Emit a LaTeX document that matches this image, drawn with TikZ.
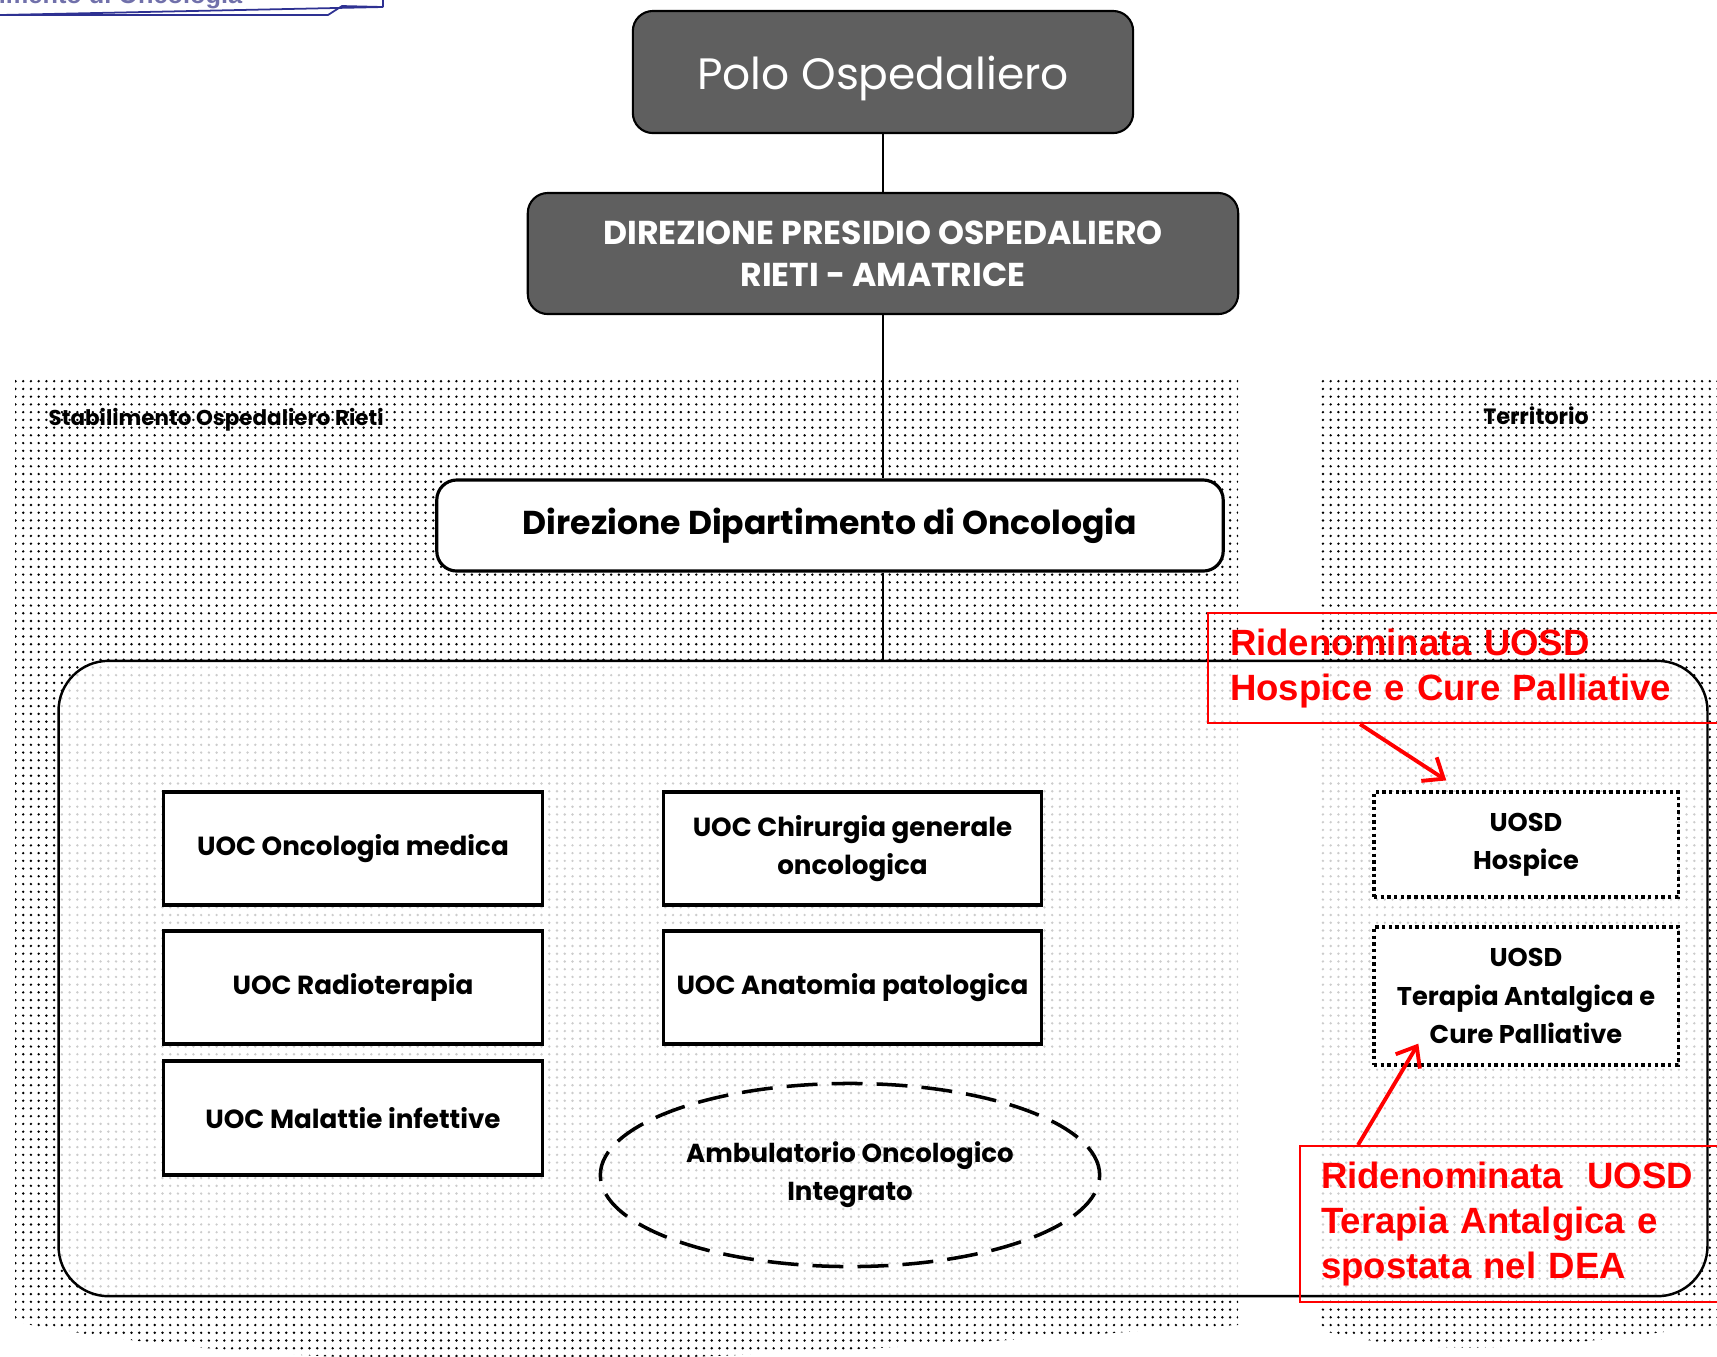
\documentclass[tikz,border=0pt]{standalone}
\usepackage{fontspec}
\setmainfont{Poppins}
\newfontfamily\arial{Liberation Sans}
\usetikzlibrary{arrows.meta,shapes.geometric,patterns.meta}
\definecolor{grigio}{RGB}{95,95,95}
\definecolor{blubordo}{RGB}{46,49,146}
\definecolor{blutesto}{RGB}{112,112,170}
\tikzstyle{scuro}=[draw,fill=grigio,rounded corners=0.2cm,line width=0.6pt,text=white,align=center]
\tikzstyle{uoc}=[draw,fill=white,line width=0.9pt,minimum width=3.78cm,minimum height=1.13cm,align=center,font=\fontsize{7.45}{10.8}\selectfont\bfseries]
\tikzstyle{uosd}=[uoc,dash pattern=on 1pt off 0.9pt,minimum width=3.04cm,minimum height=1.05cm,font=\fontsize{7.3}{10.9}\selectfont\bfseries]
\tikzstyle{nota}=[draw=red,line width=0.6pt,text=red,align=left,anchor=north west,font=\fontsize{10.4}{12.8}\selectfont\arial\bfseries]

\begin{document}
\begin{tikzpicture}[x=0.01cm,y=-0.01cm]
\tikzset{puntini/.style={pattern={Dots[distance=2.2pt,radius=0.38pt]},pattern color=black},
freccia/.style={red,line width=1.1pt,-{Straight Barb[length=5pt,width=8pt]}},
linea/.style={line width=0.6pt}}
\clip (0,0) rectangle (1717,1356);

\fill[puntini] (15,375) -- (1238,375) -- (1238,1325) .. controls (900,1345) and (400,1395) .. (15,1322) -- cycle;
\fill[puntini] (1320,375) -- (1740,375) -- (1740,1322) .. controls (1600,1340) and (1450,1365) .. (1320,1330) -- cycle;

\node[anchor=base east,inner sep=0,text=blutesto,font=\fontsize{7.2}{8}\selectfont\arial\bfseries] (dipt) at (243,3) {Dipartimento di Oncologia};
\draw[blubordo,line width=0.5pt] (0,15) -- (328,15) -- (342,6) -- (383,7) -- cycle (383,7) -- (383,-2);

\node[scuro,minimum width=5cm,minimum height=1.22cm,text height=13.3pt,font=\fontsize{12.5}{14}\selectfont] (polo) at (883,72) {Polo Ospedaliero};
\node[scuro,minimum width=7.1cm,minimum height=1.21cm,font=\fontsize{9.4}{12}\selectfont\bfseries] (dirp) at (883,253.5) {DIREZIONE PRESIDIO OSPEDALIERO\\RIETI - AMATRICE};
\node[draw,fill=white,rounded corners=0.2cm,line width=0.9pt,minimum width=7.86cm,minimum height=0.91cm,font=\fontsize{9.4}{10}\selectfont\bfseries] (dip) at (830,525.5) {Direzione Dipartimento di Oncologia};
\node[draw,fill=white,fill opacity=0.8,rounded corners=0.5cm,line width=0.7pt,minimum width=16.48cm,minimum height=6.35cm] (area) at (883,978.5) {};

\draw[linea] (polo) -- (dirp);
\draw[linea] (dirp) -- (dirp |- dip.north);
\draw[linea] (dip.south -| dirp) -- (dirp |- area.north);

\node[anchor=base west,inner sep=0,font=\fontsize{6.1}{7}\selectfont\bfseries] (stab) at (48,425) {Stabilimento Ospedaliero Rieti};
\node[anchor=base,inner sep=0,font=\fontsize{6.3}{7}\selectfont\bfseries] (terr) at (1536,424) {Territorio};

\node[uoc] (onc) at (353,848.5) {UOC Oncologia medica};
\node[uoc] (rad) at (353,987.5) {UOC Radioterapia};
\node[uoc,minimum height=1.14cm] (inf) at (353,1118) {UOC Malattie infettive};
\node[uoc] (chi) at (852.5,848.5) {UOC Chirurgia generale\\oncologica};
\node[uoc] (ana) at (852.5,987.5) {UOC Anatomia patologica};
\node[ellipse,draw,dash pattern=on 8.8pt off 4pt,line width=1pt,minimum width=4.99cm,minimum height=1.83cm,align=center,font=\fontsize{7.4}{10.8}\selectfont\bfseries] (amb) at (850,1175) {Ambulatorio Oncologico\\Integrato};

\node[uosd] (hos) at (1526,844.5) {UOSD\\Hospice};
\node[uosd,minimum height=1.38cm] (ter) at (1526,996) {UOSD\\Terapia Antalgica e\\Cure Palliative};

\node[nota,inner xsep=0.22cm,text width=4.86cm,minimum height=1.1cm] (n1) at (1207,612) {Ridenominata UOSD\\Hospice e Cure Palliative};
\node[nota,inner xsep=0.21cm,text width=3.96cm,minimum height=1.56cm] (n2) at (1299,1145) {Ridenominata\ \ UOSD\\Terapia Antalgica e\\spostata nel DEA};

\draw[freccia] ([xshift=1.53cm]n1.south west) -- ([shift={(74,-10)}]hos.north west);
\draw[freccia] ([xshift=0.59cm]n2.north west) -- ([shift={(46,-23)}]ter.south west);

\end{tikzpicture}
\end{document}
